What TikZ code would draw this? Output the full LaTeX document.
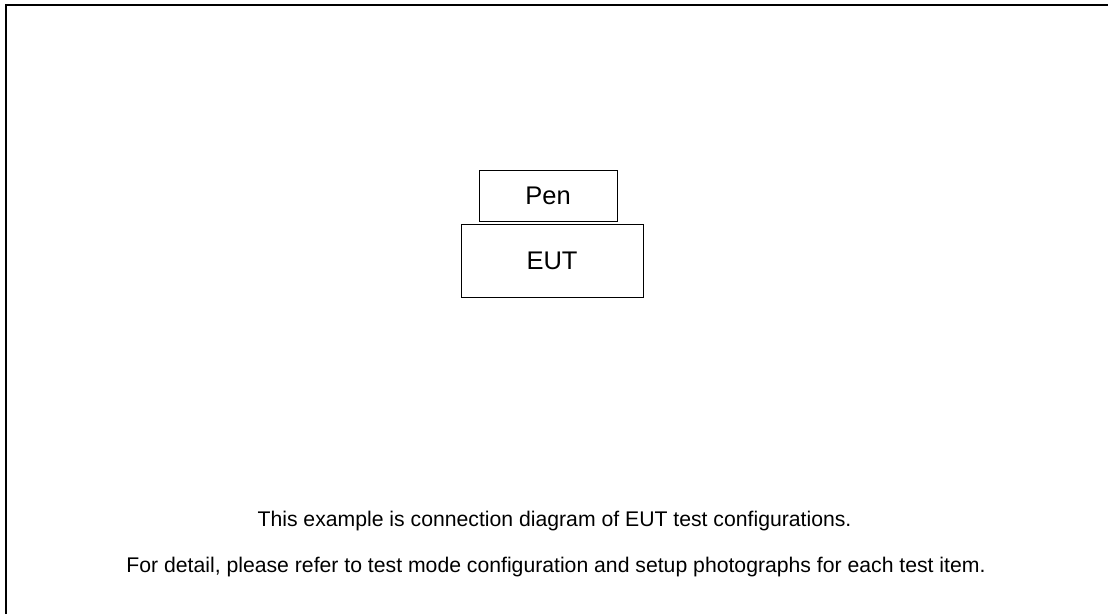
\documentclass[tikz,border=0pt]{standalone}
\usepackage{fontspec}
\setmainfont{Liberation Sans}
\begin{document}
\begin{tikzpicture}[x=1pt,y=-1pt,
  box/.style={draw,line width=0.9pt,inner sep=0pt},
  big/.style={font=\fontsize{25.5}{30}\selectfont},
  note/.style={font=\fontsize{21.2}{25}\selectfont,anchor=base}]
\useasboundingbox (0,0) rectangle (1108,614);
\draw[line width=2pt] (6,614) -- (6,5) -- (1108,5);
\node[box,minimum width=138pt,minimum height=51pt,big] (pen) at (548,195.5) {Pen};
\node[box,minimum width=182pt,minimum height=73pt,big] (eut) at (552,260.5) {EUT};
\node[note] (l1) at (554.5,526) {This example is connection diagram of EUT test configurations.};
\node[note] (l2) at (556,572) {For detail, please refer to test mode configuration and setup photographs for each test item.};
\end{tikzpicture}
\end{document}
